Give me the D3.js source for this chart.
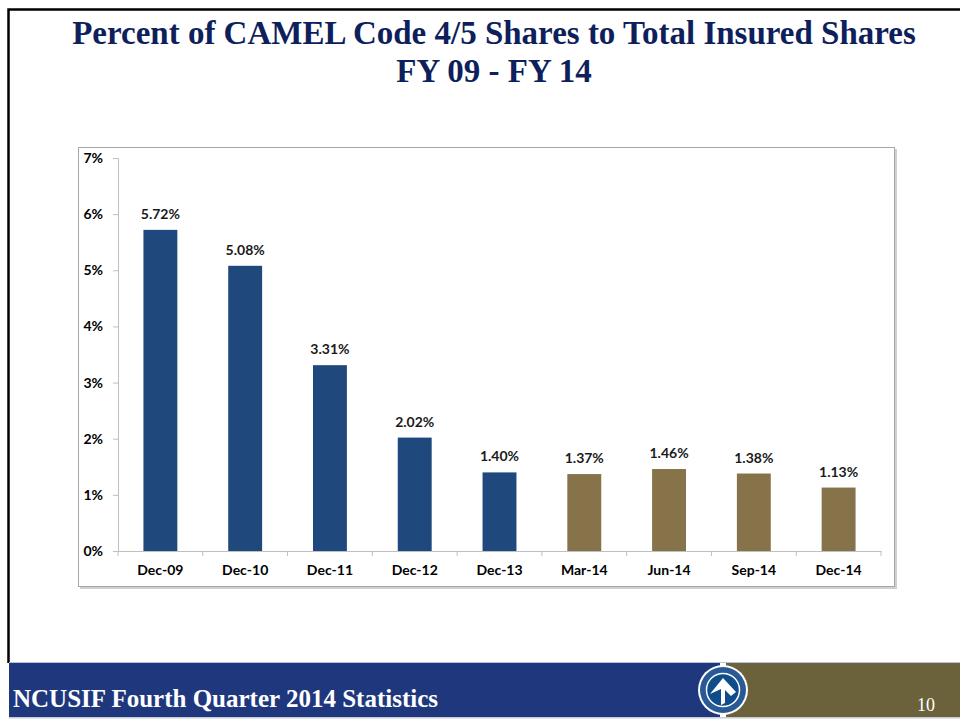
<!DOCTYPE html>
<html>
<head>
<meta charset="utf-8">
<script src="https://cdn.jsdelivr.net/npm/d3@7"></script>
<style>
  body { margin: 0; background: #fff; }
  svg { display: block; }
</style>
</head>
<body>
<div id="chart"></div>
<script>
// ******************** data ********************
const categories = ["Dec-09", "Dec-10", "Dec-11", "Dec-12", "Dec-13", "Mar-14", "Jun-14", "Sep-14", "Dec-14"]
const values = [5.72, 5.08, 3.31, 2.02, 1.40, 1.37, 1.46, 1.38, 1.13]
const yTicks = [0, 1, 2, 3, 4, 5, 6, 7]
const titleLines = ["Percent of CAMEL Code 4/5 Shares to Total Insured Shares", "FY 09 - FY 14"]
const footerText = "NCUSIF Fourth Quarter 2014 Statistics"
const pageNumber = "10"

const width = 960
const height = 723

const svg = d3.select("#chart")
  .append("svg")
  .attr("width", width)
  .attr("height", height)

// ******************** slide border ********************
svg.append("path")
  .attr("d", "M8.5,663 L8.5,9.5 L960,9.5")
  .attr("fill", "none")
  .attr("stroke", "#000")
  .attr("stroke-width", 2.5)

// ******************** title ********************
svg.selectAll("text.title")
  .data(titleLines)
  .enter()
  .append("text")
  .attr("class", "title")
  .attr("x", 494)
  .attr("y", (d, i) => 44 + i * 38)
  .attr("text-anchor", "middle")
  .style("font-family", "'Liberation Serif', 'DejaVu Serif', serif")
  .style("font-weight", "bold")
  .style("font-size", "33px")
  .style("fill", "#0e1f5c")
  .text(d => d)

// ******************** chart frame ********************
svg.append("rect")
  .attr("x", 80)
  .attr("y", 149)
  .attr("width", 817)
  .attr("height", 440)
  .attr("fill", "#d0d0d0")

svg.append("rect")
  .attr("x", 78.5)
  .attr("y", 147.5)
  .attr("width", 816)
  .attr("height", 439)
  .attr("fill", "#fff")
  .attr("stroke", "#a6a6a6")
  .attr("stroke-width", 1)

// ******************** scales ********************
const x = d3.scaleBand()
  .domain(categories)
  .range([118, 881])
  .paddingInner(0.6)
  .paddingOuter(0.3)

const y = d3.scaleLinear()
  .domain([0, 7])
  .range([551, 158])

const labelFont = "Lato, 'Open Sans', sans-serif"

// y axis
const yAxis = svg.append("g")
  .attr("transform", "translate(118,0)")
  .call(d3.axisLeft(y).tickValues(yTicks).tickSize(5).tickPadding(10).tickFormat(d => d + "%"))

yAxis.select(".domain").attr("stroke", "#bfbfbf")
yAxis.selectAll(".tick line").attr("stroke", "#bfbfbf")
yAxis.selectAll(".tick text")
  .style("font-family", labelFont)
  .style("font-weight", "bold")
  .style("font-size", "14px")
  .style("fill", "#000")

// x axis
const xAxis = svg.append("g")
  .attr("transform", "translate(0,551)")
  .call(d3.axisBottom(x).tickSize(0).tickPadding(14))

xAxis.select(".domain").attr("stroke", "#bfbfbf")
xAxis.selectAll(".tick text")
  .style("font-family", labelFont)
  .style("font-weight", "bold")
  .style("font-size", "14px")
  .style("fill", "#000")

// category boundary ticks
const half = x.step() * x.paddingInner() / 2
const boundaries = categories.map(c => x(c) - half).concat([x(categories[categories.length - 1]) + x.bandwidth() + half])

svg.append("g")
  .selectAll("line")
  .data(boundaries)
  .enter()
  .append("line")
  .attr("x1", d => d)
  .attr("x2", d => d)
  .attr("y1", 551)
  .attr("y2", 556)
  .attr("stroke", "#bfbfbf")

// ******************** bars ********************
svg.append("g")
  .selectAll("rect")
  .data(values)
  .enter()
  .append("rect")
  .attr("x", (d, i) => x(categories[i]))
  .attr("y", d => y(d))
  .attr("width", x.bandwidth())
  .attr("height", d => y(0) - y(d))
  .attr("fill", (d, i) => i < 5 ? "#1f497d" : "#86734a")

// data labels
svg.append("g")
  .selectAll("text")
  .data(values)
  .enter()
  .append("text")
  .attr("x", (d, i) => x(categories[i]) + x.bandwidth() / 2)
  .attr("y", d => y(d) - 11)
  .attr("text-anchor", "middle")
  .style("font-family", labelFont)
  .style("font-weight", "bold")
  .style("font-size", "14px")
  .style("fill", "#1a1a1a")
  .text(d => d.toFixed(2) + "%")

// ******************** footer ********************
svg.append("rect")
  .attr("x", 9)
  .attr("y", 662)
  .attr("width", 951)
  .attr("height", 1)
  .attr("fill", "#b8c4d8")

svg.append("rect")
  .attr("x", 9)
  .attr("y", 663)
  .attr("width", 711)
  .attr("height", 54)
  .attr("fill", "#1f387d")

svg.append("rect")
  .attr("x", 726)
  .attr("y", 663)
  .attr("width", 234)
  .attr("height", 54)
  .attr("fill", "#6b613a")

svg.append("rect")
  .attr("x", 9)
  .attr("y", 717)
  .attr("width", 951)
  .attr("height", 1.5)
  .attr("fill", "#c8ccd4")

svg.append("text")
  .attr("x", 13)
  .attr("y", 707)
  .style("font-family", "'Liberation Serif', 'DejaVu Serif', serif")
  .style("font-weight", "bold")
  .style("font-size", "25px")
  .style("fill", "#fff")
  .text(footerText)

svg.append("text")
  .attr("x", 926)
  .attr("y", 711)
  .attr("text-anchor", "middle")
  .style("font-family", "'Liberation Serif', 'DejaVu Serif', serif")
  .style("font-size", "18px")
  .style("fill", "#fff")
  .text(pageNumber)

// logo
const logo = svg.append("g").attr("transform", "translate(723,690)")

logo.append("circle").attr("r", 25).attr("fill", "#fff")
logo.append("circle").attr("r", 23).attr("fill", "#2a5a96")
logo.append("circle").attr("r", 16.5).attr("fill", "#0f4c8a").attr("stroke", "#fff").attr("stroke-width", 1.5)

logo.append("path")
  .attr("d", "M-13,4 L0,-12 L13,2 L8,6 L2,0 L2,13 L-2,15 L-2,-1 Z")
  .attr("fill", "#fff")
</script>
</body>
</html>
